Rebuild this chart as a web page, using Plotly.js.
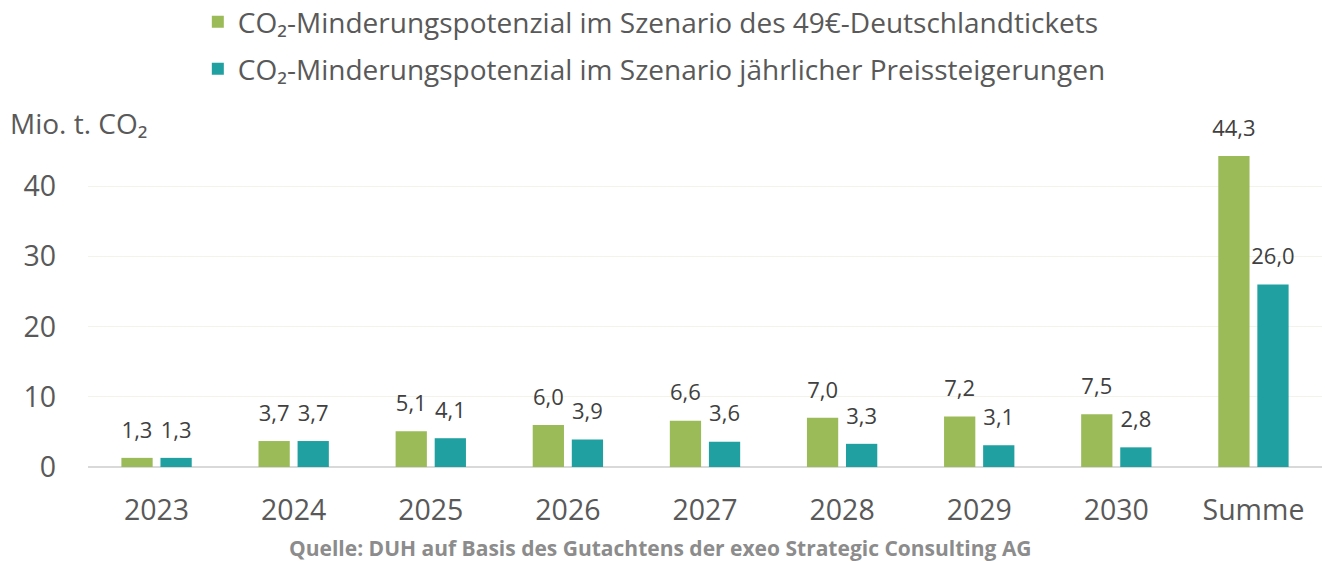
<!DOCTYPE html>
<html><head><meta charset="utf-8">
<script src="https://cdn.plot.ly/plotly-3.0.1.min.js"></script>
<style>html,body{margin:0;padding:0;background:#fff;}#chart{width:1325px;height:561px;}</style>
</head><body><div id="chart"></div>
<script>
const categories = ['2023','2024','2025','2026','2027','2028','2029','2030','Summe'];
const seriesNames = ['CO₂-Minderungspotenzial im Szenario des 49€-Deutschlandtickets','CO₂-Minderungspotenzial im Szenario jährlicher Preissteigerungen'];
const ticketValues = [1.3,3.7,5.1,6.0,6.6,7.0,7.2,7.5,44.3];
const priceValues = [1.3,3.7,4.1,3.9,3.6,3.3,3.1,2.8,26.0];
const yAxisLabel = 'Mio. t. CO₂';
const sourceText = 'Quelle: DUH auf Basis des Gutachtens der exeo Strategic Consulting AG';

const FONT = '"Open Sans", sans-serif';
const colors = ['#9BBB59','#20A0A0'];
function bar(i, vals){
  return {type:'bar', name:seriesNames[i], x:categories, y:vals, marker:{color:colors[i]},
    offsetgroup:'g'+i, alignmentgroup:'a', legend: i===0?'legend':'legend2',
    hoverinfo:'skip'};
}
function labels(i, vals){
  return {type:'scatter', mode:'markers+text', x:categories, y:vals, showlegend:false,
    offsetgroup:'g'+i, alignmentgroup:'a',
    marker:{size:22,opacity:0,color:colors[i]},
    text: vals.map(v=>v.toFixed(1).replace('.',',')), textposition:'top center', cliponaxis:false,
    textfont:{family:FONT,size:22,color:'#404040'}, hoverinfo:'skip'};
}
const data=[bar(0,ticketValues), bar(1,priceValues), labels(0,ticketValues), labels(1,priceValues)];
const legendCommon = {orientation:'v',x:0.089,xanchor:'left',yanchor:'middle',
    font:{family:FONT,size:28,color:'#595959'},bgcolor:'rgba(0,0,0,0)'};
const layout={
  width:1325,height:561,margin:{l:88,r:3,t:116,b:94,autoexpand:false},
  paper_bgcolor:'#fff',plot_bgcolor:'#fff',
  separators:',.',
  barmode:'group',bargap:0.43,bargroupgap:0.2,scattermode:'group',scattergap:0.43,
  font:{family:FONT,color:'#595959',size:25},
  showlegend:true,
  legend:Object.assign({y:1.268},legendCommon),
  legend2:Object.assign({y:1.134},legendCommon),
  xaxis:{type:'category',showgrid:false,zeroline:false,showline:false,ticks:'',
    tickfont:{family:FONT,size:28.5,color:'#595959'},ticklabelstandoff:23},
  yaxis:{range:[0,50],dtick:10,showgrid:true,gridcolor:'#f3f3ea',gridwidth:1,
    zeroline:true,zerolinecolor:'#d9d9d9',zerolinewidth:2,showline:false,ticks:'',
    tickfont:{family:FONT,size:28.5,color:'#595959'},ticklabelstandoff:31,
    tickvals:[0,10,20,30,40]},
  annotations:[
    {text:yAxisLabel,xref:'paper',yref:'paper',x:-0.0648,y:0.979,xanchor:'left',yanchor:'middle',showarrow:false,
      font:{family:FONT,size:28,color:'#595959'}},
    {text:'<b>'+sourceText+'</b>',xref:'paper',yref:'paper',x:0.464,y:-0.231,xanchor:'center',yanchor:'middle',showarrow:false,
      font:{family:FONT,size:21,color:'#8c8c8c'}}
  ]
};
Plotly.newPlot('chart',data,layout,{displayModeBar:false,responsive:false});
</script></body></html>
